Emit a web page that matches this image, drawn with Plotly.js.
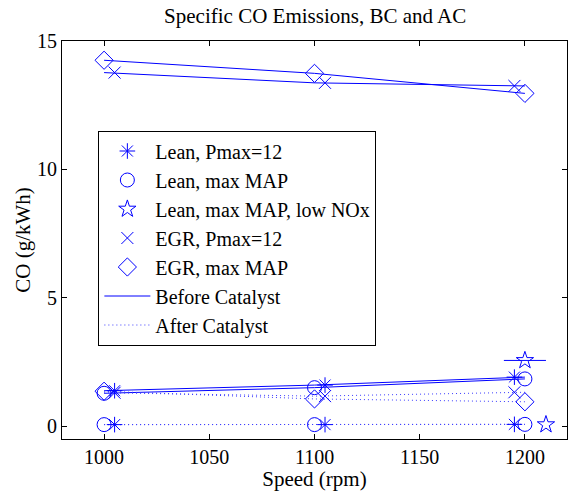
<!DOCTYPE html>
<html>
<head>
<meta charset="utf-8">
<script src="https://cdn.plot.ly/plotly-3.0.1.min.js"></script>
<style>html,body{margin:0;padding:0;background:#fff;}#chart{width:572px;height:491px;}</style>
</head>
<body>
<div id="chart"></div>
<script>
// Nominal speeds (lines) and marker speeds (markers are offset in the original)
const speeds = [1000, 1100, 1200];
const speedsPlus = [1005, 1105, 1195];

// Lean, Pmax=12 (asterisk)
const leanPmaxBefore = [1.38, 1.60, 1.91];
const leanPmaxAfter = [0.06, 0.06, 0.07];
// Lean, max MAP (circle)
const leanMapBefore = [1.28, 1.50, 1.84];
const leanMapAfter = [0.06, 0.06, 0.07];
// Lean, max MAP, low NOx (star) - single operating point
const lowNoxBeforeSpeed = [1200];
const lowNoxBefore = [2.56];
const lowNoxLineSpeed = [1190, 1210];
const lowNoxLine = [2.56, 2.56];
const lowNoxAfterSpeed = [1210];
const lowNoxAfter = [0.06];
// EGR, Pmax=12 (x)
const egrPmaxBefore = [13.77, 13.37, 13.25];
const egrPmaxAfter = [1.30, 1.17, 1.32];
// EGR, max MAP (diamond)
const egrMapBefore = [14.25, 13.74, 12.96];
const egrMapAfter = [1.36, 1.06, 0.95];

const blue = 'rgb(0,0,255)';
const dotBlue = 'rgb(60,60,255)';
const traces = [];

function lineTrace(x, y, dotted, name, show, rank) {
  return {x: x, y: y, type: 'scatter', mode: 'lines', name: name || '',
    showlegend: !!show, legendrank: rank || 1000,
    line: {color: dotted ? dotBlue : blue, width: 1, dash: dotted ? '1px,3px' : 'solid'},
    hoverinfo: 'skip'};
}
function markTrace(x, y, symbol, size, name, show, rank) {
  return {x: x, y: y, type: 'scatter', mode: 'markers', name: name || '',
    showlegend: !!show, legendrank: rank || 1000,
    marker: {symbol: symbol, size: size, color: blue, line: {color: blue, width: 1}},
    hoverinfo: 'skip'};
}

// lines
traces.push(lineTrace(speeds, leanPmaxBefore, false, 'Before Catalyst', true, 6));
traces.push(lineTrace(speeds, leanPmaxAfter, true, 'After Catalyst', true, 7));
traces.push(lineTrace(speeds, leanMapBefore, false));
traces.push(lineTrace(speeds, leanMapAfter, true));
traces.push(lineTrace(lowNoxLineSpeed, lowNoxLine, false));
traces.push(lineTrace(speeds, egrPmaxBefore, false));
traces.push(lineTrace(speeds, egrPmaxAfter, true));
traces.push(lineTrace(speeds, egrMapBefore, false));
traces.push(lineTrace(speeds, egrMapAfter, true));

// markers
traces.push(markTrace(speedsPlus, leanPmaxBefore, 'asterisk-open', 13, 'Lean, Pmax=12', true, 1));
traces.push(markTrace(speedsPlus, leanPmaxAfter, 'asterisk-open', 13));
traces.push(markTrace(speeds, leanMapBefore, 'circle-open', 14, 'Lean, max MAP', true, 2));
traces.push(markTrace(speeds, leanMapAfter, 'circle-open', 14));
traces.push(markTrace(lowNoxBeforeSpeed, lowNoxBefore, 'star-open', 13, 'Lean, max MAP, low NOx', true, 3));
traces.push(markTrace(lowNoxAfterSpeed, lowNoxAfter, 'star-open', 13));
traces.push(markTrace(speedsPlus, egrPmaxBefore, 'x-thin-open', 12, 'EGR, Pmax=12', true, 4));
traces.push(markTrace(speedsPlus, egrPmaxAfter, 'x-thin-open', 12));
traces.push(markTrace(speeds, egrMapBefore, 'diamond-open', 14, 'EGR, max MAP', true, 5));
traces.push(markTrace(speeds, egrMapAfter, 'diamond-open', 14));

const fam = '"Liberation Serif", "Times New Roman", serif';
const f = (s) => ({family: fam, size: s, color: '#000'});
const layout = {
  width: 572, height: 491,
  margin: {l: 62, r: 5, t: 41, b: 52},
  paper_bgcolor: '#fff', plot_bgcolor: '#fff',
  font: f(20),
  showlegend: true,
  title: {text: 'Specific CO Emissions, BC and AC', font: f(21),
    x: 0.551, xanchor: 'center', y: 0.969, yanchor: 'middle'},
  xaxis: {range: [980, 1220], tickvals: [1000, 1050, 1100, 1150, 1200],
    ticks: 'inside', ticklen: 5, tickcolor: '#000', showgrid: false, zeroline: false,
    showline: true, linecolor: '#000', linewidth: 1, mirror: 'ticks',
    tickfont: f(20),
    title: {text: 'Speed (rpm)', font: f(21), standoff: 0}},
  yaxis: {range: [-0.5, 15], tickvals: [0, 5, 10, 15],
    ticks: 'inside', ticklen: 5, tickcolor: '#000', showgrid: false, zeroline: false,
    showline: true, linecolor: '#000', linewidth: 1, mirror: 'ticks',
    tickfont: f(20),
    title: {text: 'CO (g/kWh)', font: f(21), standoff: 0}},
  legend: {x: 0.072, y: 0.505, xanchor: 'left', yanchor: 'middle',
    bgcolor: '#fff', bordercolor: '#000', borderwidth: 1,
    font: f(20), itemwidth: 46, tracegroupgap: 0,
    traceorder: 'normal'}
};
Plotly.newPlot('chart', traces, layout, {displayModeBar: false, staticPlot: true});
</script>
</body>
</html>
